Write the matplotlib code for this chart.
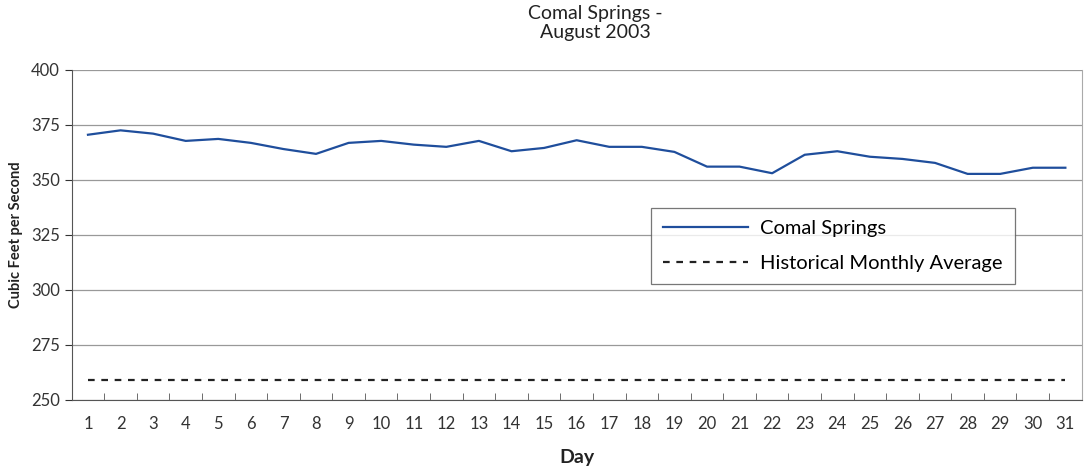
import numpy as np
import matplotlib.pyplot as plt
from matplotlib.ticker import FixedLocator

days = list(range(1, 32))
comal = [370.5, 372.5, 371.0, 367.7, 368.6, 366.8, 364.0, 361.8, 366.8, 367.7,
         366.0, 365.0, 367.7, 363.0, 364.5, 368.0, 365.0, 365.0, 362.7, 356.0,
         356.0, 353.0, 361.4, 363.0, 360.5, 359.5, 357.7, 352.7, 352.7, 355.5,
         355.5]
hist_avg = [259.0] * 31
yticks = [250, 275, 300, 325, 350, 375, 400]

plt.rcParams['font.family'] = ['Lato', 'DejaVu Sans']

fig = plt.figure(figsize=(10.86, 4.72), dpi=100)
ax = fig.add_axes([0.066, 0.153, 0.93, 0.699])

ax.plot(days, comal, color='#1f4e9c', lw=1.6, label='Comal Springs')
ax.plot(days, hist_avg, color='#222222', lw=1.6, ls=(0, (3, 3)),
        label='Historical Monthly Average')

ax.set_xlim(0.5, 31.5)
ax.set_ylim(250, 400)
ax.set_yticks(yticks)
ax.set_xticks(days)
ax.xaxis.set_minor_locator(FixedLocator(np.arange(1.5, 31, 1)))
ax.tick_params(axis='x', which='major', length=0, pad=12, labelsize=12, colors='#333333')
ax.tick_params(axis='x', which='minor', length=5, direction='in', color='#555555')
ax.tick_params(axis='y', length=5, labelsize=12, colors='#333333')

ax.grid(axis='y', color='#999999', lw=0.9)
ax.spines['top'].set_visible(False)
ax.spines['right'].set_color('#aaaaaa')
ax.spines['left'].set_color('#555555')
ax.spines['bottom'].set_color('#555555')

ax.set_xlabel('Day', fontsize=14, fontweight='bold', color='#222222', labelpad=12)
ax.set_ylabel('Cubic Feet per Second', fontsize=10.5, fontweight='bold', color='#222222', labelpad=6)
fig.text(0.548, 0.99, 'Comal Springs -\nAugust 2003', ha='center', va='top',
         fontsize=14, color='#222222', linespacing=1.15)

leg = ax.legend(loc='upper left', bbox_to_anchor=(0.564, 0.612), fontsize=14.5,
                frameon=True, fancybox=False, handlelength=4.2, borderpad=0.6,
                labelspacing=0.9, edgecolor='#555555', handletextpad=0.6)
leg.get_frame().set_linewidth(0.9)

fig.savefig('out.png', dpi=100)
